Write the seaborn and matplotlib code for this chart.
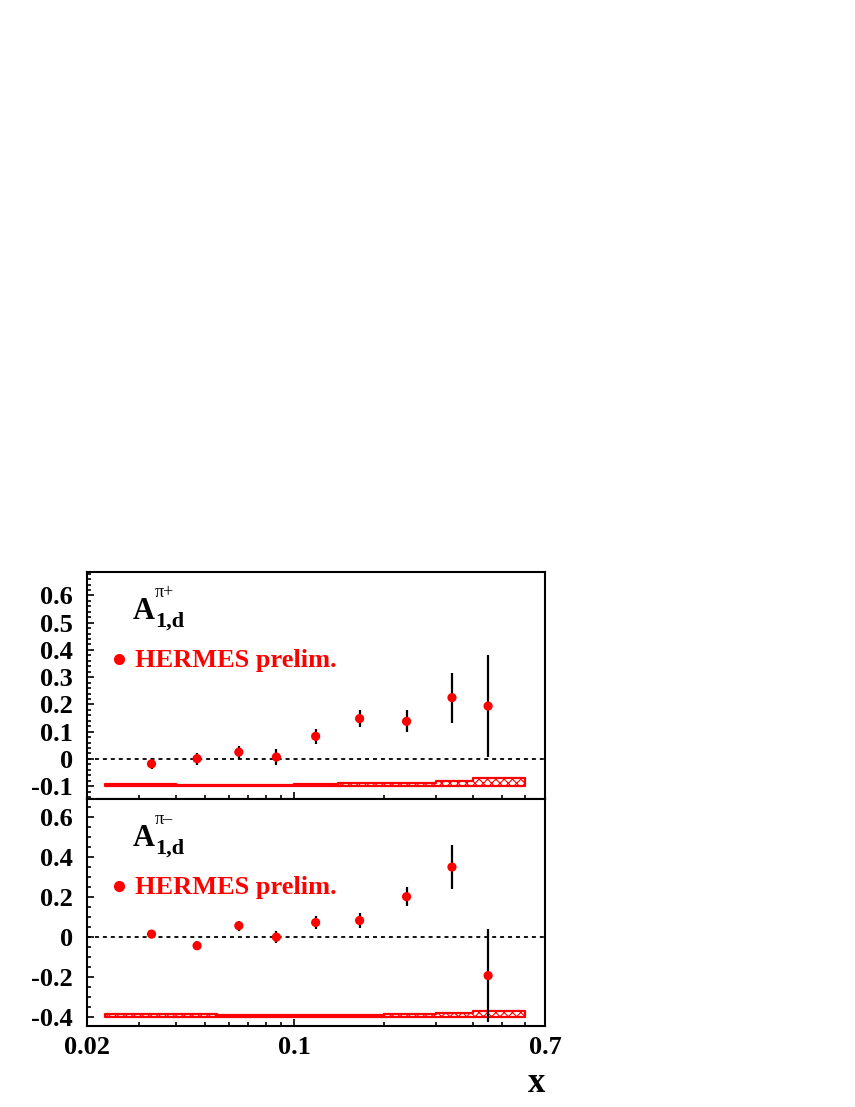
import numpy as np
import pandas as pd
import matplotlib
matplotlib.use("Agg")
import matplotlib.pyplot as plt
from matplotlib.ticker import FixedLocator, LogLocator, MultipleLocator, FuncFormatter, NullFormatter
import seaborn as sns

# mean x of the nine HERMES bins
x_mean = [0.033, 0.047, 0.065, 0.087, 0.118, 0.166, 0.239, 0.340, 0.450]

# A1,d pi+ with stat. errors
a_pip = [-0.018, 0.001, 0.025, 0.007, 0.083, 0.148, 0.138, 0.225, 0.194]
err_pip = [0.020, 0.022, 0.024, 0.028, 0.027, 0.030, 0.040, 0.092, 0.188]

# A1,d pi- with stat. errors
a_pim = [0.015, -0.043, 0.057, 0.0, 0.073, 0.083, 0.202, 0.350, -0.192]
err_pim = [0.010, 0.022, 0.026, 0.031, 0.031, 0.036, 0.049, 0.112, 0.233]

# systematic error bands (height above the band baseline)
bin_edges = [0.023, 0.04, 0.055, 0.075, 0.1, 0.14, 0.2, 0.3, 0.4, 0.6]
sys_pip = [0.007, 0.006, 0.006, 0.006, 0.008, 0.012, 0.010, 0.020, 0.029]
sys_pim = [0.015, 0.014, 0.013, 0.012, 0.010, 0.010, 0.014, 0.021, 0.031]
band_base = {"pip": -0.1, "pim": -0.4}

sns.set_style("ticks", {"axes.edgecolor": "black", "xtick.color": "black",
                        "ytick.color": "black", "text.color": "black",
                        "axes.labelcolor": "black"})
plt.rcParams["font.family"] = ["Liberation Serif", "DejaVu Serif"]
plt.rcParams["font.weight"] = "bold"
plt.rcParams["hatch.linewidth"] = 0.8

df = pd.DataFrame({
    "x": x_mean * 2,
    "A": a_pip + a_pim,
    "err": err_pip + err_pim,
    "hadron": ["pip"] * len(x_mean) + ["pim"] * len(x_mean),
})

fig = plt.figure(figsize=(8.55, 11.07), dpi=100)
W, H = 855, 1107
ax_top = fig.add_axes([87 / W, 1 - 799 / H, 458 / W, 227 / H])
ax_bot = fig.add_axes([87 / W, 1 - 1026 / H, 458 / W, 227 / H], sharex=ax_top)

fmt = FuncFormatter(lambda v, p: f"{round(v, 3) + 0:g}")

panels = [
    (ax_top, "pip", sys_pip, "\u03c0+", (-0.147, 0.686), 0.1, 0.02),
    (ax_bot, "pim", sys_pim, "\u03c0\u2013", (-0.444, 0.69), 0.2, 0.05),
]

for ax, key, sys_vals, sup, ylim, major, minor in panels:
    sub = df[df["hadron"] == key]
    base = band_base[key]

    # systematic band
    tops = [base + s for s in sys_vals]
    ax.fill_between(bin_edges, base, tops + [tops[-1]], step="post",
                    facecolor="none", edgecolor="red", hatch="xxxx", linewidth=1.6, zorder=1)

    ax.axhline(0, color="black", linestyle=(0, (2.2, 2.2)), linewidth=1.3, zorder=1)

    ax.errorbar(sub["x"], sub["A"], yerr=sub["err"], fmt="none",
                ecolor="black", elinewidth=1.6, capsize=0, zorder=2)
    sns.scatterplot(data=sub, x="x", y="A", color="red", s=44, edgecolor="none",
                    ax=ax, zorder=3, legend=False)

    ax.set_xscale("log")
    ax.set_xlim(0.02, 0.7)
    ax.set_ylim(*ylim)
    ax.yaxis.set_major_locator(MultipleLocator(major))
    ax.yaxis.set_minor_locator(MultipleLocator(minor))
    ax.yaxis.set_major_formatter(fmt)
    ax.xaxis.set_major_locator(FixedLocator([0.02, 0.1, 0.7]))
    ax.xaxis.set_minor_locator(LogLocator(base=10, subs=np.arange(2, 10)))
    ax.xaxis.set_major_formatter(fmt)
    ax.xaxis.set_minor_formatter(NullFormatter())
    ax.tick_params(which="both", direction="in", top=False, right=False,
                   width=1.2, labelsize=19, colors="black")
    ax.tick_params(which="major", length=5)
    ax.tick_params(which="minor", length=3)
    ax.tick_params(axis="y", pad=10)
    ax.tick_params(axis="x", pad=7)
    for sp in ax.spines.values():
        sp.set_linewidth(1.5)
        sp.set_color("black")
        sp.set_visible(True)
    ax.set_xlabel("")
    ax.set_ylabel("")

    # A_{1,d}^{pi+/-} label built from three pieces
    anchor = (0.1, 0.795)
    ax.annotate("A", xy=anchor, xycoords="axes fraction", fontsize=22,
                fontweight="bold", va="baseline", ha="left")
    ax.annotate("1,d", xy=anchor, xycoords="axes fraction", xytext=(16, -6),
                textcoords="offset points", fontsize=16, fontweight="bold",
                va="baseline", ha="left")
    ax.annotate(sup, xy=anchor, xycoords="axes fraction", xytext=(16, 15.5),
                textcoords="offset points", fontsize=13, fontweight="normal",
                va="baseline", ha="left")

    ax.plot([0.07], [0.617], transform=ax.transAxes, marker="o", color="red",
            markersize=7, linestyle="none")
    ax.text(0.105, 0.58, "HERMES prelim.", transform=ax.transAxes, color="red",
            fontsize=19, fontweight="bold", va="baseline", ha="left")

ax_top.tick_params(labelbottom=False)
ax_bot.set_xlabel("x", loc="right", fontsize=25, fontweight="bold", labelpad=6)

fig.savefig("out.png", dpi=100)
